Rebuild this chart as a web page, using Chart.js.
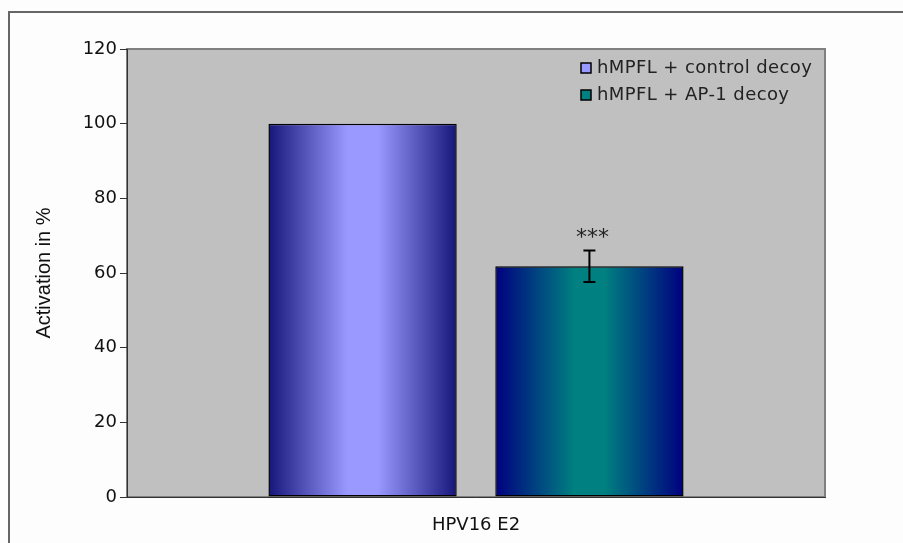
<!DOCTYPE html>
<html>
<head>
<meta charset="utf-8">
<script src="https://cdn.jsdelivr.net/npm/chart.js@4"></script>
<style>
  body { margin: 0; background: #fdfdfd; }
  canvas { display: block; }
</style>
</head>
<body>
<canvas id="myChart" width="903" height="543"></canvas>
<script>
const categories = ["HPV16 E2"];

const seriesNames = ["hMPFL + control decoy", "hMPFL + AP-1 decoy"];
const controlValues = [100];
const ap1Values = [61.8];

// error bar half-widths and significance marks per series (first category)
const errorValues = [null, 4.2];
const stars = ["", "***"];

const yTicks = [0, 20, 40, 60, 80, 100, 120];

// edge / centre colours of the horizontal gradients
const barEdge = ["#16167a", "#000080"];
const barMid = ["#9999ff", "#008080"];

function barGradient(ctx, el, i) {
  const g = ctx.createLinearGradient(el.x - el.width / 2, 0, el.x + el.width / 2, 0);
  g.addColorStop(0, barEdge[i]);
  g.addColorStop(0.42, barMid[i]);
  g.addColorStop(0.58, barMid[i]);
  g.addColorStop(1, barEdge[i]);
  return g;
}

const decorPlugin = {
  id: "decor",
  beforeDraw(chart) {
    const ctx = chart.ctx;
    const a = chart.chartArea;
    ctx.save();
    ctx.fillStyle = "#fdfdfd";
    ctx.fillRect(0, 0, chart.width, chart.height);
    // outer frame (only left and top visible)
    ctx.strokeStyle = "#666";
    ctx.lineWidth = 2;
    ctx.beginPath();
    ctx.moveTo(9, chart.height);
    ctx.lineTo(9, 12);
    ctx.lineTo(chart.width, 12);
    ctx.stroke();
    // plot area
    ctx.fillStyle = "#c0c0c0";
    ctx.fillRect(a.left, a.top, a.width, a.height);
    ctx.strokeStyle = "#808080";
    ctx.lineWidth = 2;
    ctx.strokeRect(a.left, a.top, a.width, a.height);
    ctx.restore();
  },
  beforeDatasetsDraw(chart) {
    chart.data.datasets.forEach((ds, i) => {
      chart.getDatasetMeta(i).data.forEach(el => {
        el.options.backgroundColor = barGradient(chart.ctx, el, i);
      });
    });
  },
  afterDatasetsDraw(chart) {
    const ctx = chart.ctx;
    const y = chart.scales.y;
    ctx.save();
    chart.data.datasets.forEach((ds, i) => {
      const err = errorValues[i];
      chart.getDatasetMeta(i).data.forEach((el, j) => {
        const v = ds.data[j];
        let topY = y.getPixelForValue(v);
        if (err) {
          const hi = y.getPixelForValue(v + err);
          const lo = y.getPixelForValue(v - err);
          ctx.strokeStyle = "#000";
          ctx.lineWidth = 2;
          ctx.beginPath();
          ctx.moveTo(el.x, hi);
          ctx.lineTo(el.x, lo);
          ctx.moveTo(el.x - 6, hi);
          ctx.lineTo(el.x + 6, hi);
          ctx.moveTo(el.x - 6, lo);
          ctx.lineTo(el.x + 6, lo);
          ctx.stroke();
          topY = hi;
        }
        if (stars[i]) {
          ctx.fillStyle = "#222";
          ctx.font = "22px 'DejaVu Sans'";
          ctx.textAlign = "center";
          ctx.textBaseline = "alphabetic";
          ctx.fillText(stars[i], el.x + 3, topY - 7);
        }
      });
    });
    // legend inside the plot, top right
    const a = chart.chartArea;
    ctx.font = "18px 'DejaVu Sans'";
    ctx.letterSpacing = "0.4px";
    ctx.textAlign = "left";
    ctx.textBaseline = "middle";
    chart.data.datasets.forEach((ds, i) => {
      const ly = a.top + 19 + i * 27;
      ctx.fillStyle = barMid[i];
      ctx.fillRect(581, ly - 5, 10, 10);
      ctx.strokeStyle = "#000";
      ctx.lineWidth = 1.5;
      ctx.strokeRect(581, ly - 5, 10, 10);
      ctx.fillStyle = "#222";
      ctx.fillText(ds.label, 597, ly);
    });
    ctx.restore();
  }
};

const data = {
  labels: categories,
  datasets: [
    {
      label: seriesNames[0],
      data: controlValues,
      backgroundColor: barMid[0],
      borderColor: "#000",
      borderWidth: 1.5,
      borderSkipped: false
    },
    {
      label: seriesNames[1],
      data: ap1Values,
      backgroundColor: barMid[1],
      borderColor: "#000",
      borderWidth: 1.5,
      borderSkipped: false
    }
  ]
};

const config = {
  type: "bar",
  data: data,
  options: {
    responsive: false,
    animation: false,
    devicePixelRatio: 1,
    categoryPercentage: 0.65,
    barPercentage: 0.83,
    layout: { padding: { left: 0, right: 78, top: 49, bottom: 0 } },
    plugins: {
      legend: { display: false },
      tooltip: { enabled: false }
    },
    scales: {
      x: {
        grid: { display: false },
        border: { display: true, color: "#333", width: 1 },
        ticks: { color: "#111", padding: 10, font: { family: "'DejaVu Sans'", size: 18 } },
        afterFit(scale) { scale.height = 46; }
      },
      y: {
        min: 0,
        max: 120,
        afterBuildTicks(scale) { scale.ticks = yTicks.map(v => ({ value: v })); },
        grid: { drawOnChartArea: false, tickLength: 7, color: "#333" },
        border: { display: true, color: "#333", width: 1 },
        ticks: { color: "#111", padding: 3, font: { family: "'DejaVu Sans'", size: 18 } },
        title: {
          display: true,
          text: "Activation in %",
          color: "#111",
          padding: { top: 32, bottom: 0 },
          font: { family: "'Liberation Sans'", size: 20 }
        },
        afterFit(scale) { scale.width = 127; }
      }
    }
  },
  plugins: [decorPlugin]
};

const myChart = new Chart(document.getElementById("myChart"), config);
</script>
</body>
</html>
